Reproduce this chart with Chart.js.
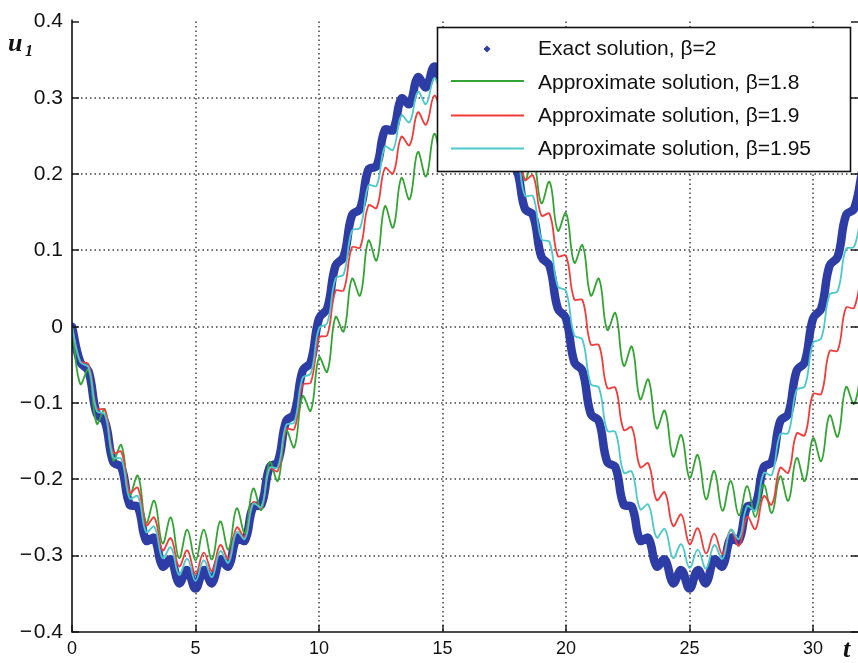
<!DOCTYPE html>
<html><head><meta charset="utf-8">
<script src="https://cdn.jsdelivr.net/npm/chart.js@4.4.1/dist/chart.umd.min.js"></script>
<style>html,body{margin:0;padding:0;background:#fff;overflow:hidden}#wrap{width:858px;height:663px;position:relative}</style>
</head><body><div id="wrap"><canvas id="c" width="858" height="663"></canvas></div>
<script>
// time samples (t)
const t = [0,0.333,0.667,1,1.333,1.667,2,2.333,2.667,3,3.333,3.667,4,4.333,4.667,5,5.333,5.667,6,6.333,6.667,7,7.333,7.667,8,8.333,8.667,9,9.333,9.667,
10,10.333,10.667,11,11.333,11.667,12,12.333,12.667,13,13.333,13.667,14,14.333,14.667,15,15.333,15.667,16,16.333,16.667,17,17.333,17.667,18,18.333,18.667,19,19.333,19.667,
20,20.333,20.667,21,21.333,21.667,22,22.333,22.667,23,23.333,23.667,24,24.333,24.667,25,25.333,25.667,26,26.333,26.667,27,27.333,27.667,28,28.333,28.667,29,29.333,29.667,
30,30.333,30.667,31,31.333,31.667,32];
// Exact solution, beta = 2
const exact = [0,-0.046,-0.058,-0.114,-0.124,-0.177,-0.184,-0.233,-0.236,-0.280,-0.277,-0.314,-0.305,-0.336,-0.319,-0.343,-0.319,-0.336,-0.305,-0.314,-0.277,-0.280,-0.236,-0.233,-0.184,-0.177,-0.124,-0.114,-0.058,-0.046,
0.011,0.024,0.080,0.092,0.146,0.155,0.206,0.211,0.258,0.258,0.299,0.292,0.327,0.314,0.341,0.321,0.341,0.314,0.327,0.292,0.299,0.258,0.258,0.211,0.206,0.155,0.146,0.092,0.080,0.024,
0.011,-0.046,-0.058,-0.114,-0.124,-0.177,-0.184,-0.233,-0.236,-0.280,-0.277,-0.314,-0.305,-0.336,-0.319,-0.343,-0.319,-0.336,-0.305,-0.314,-0.277,-0.280,-0.236,-0.233,-0.184,-0.177,-0.124,-0.114,-0.058,-0.046,
0.011,0.024,0.080,0.092,0.146,0.155,0.206];
// Approximate solution, beta = 1.8
const approx18 = [0,-0.075,-0.056,-0.127,-0.108,-0.175,-0.155,-0.220,-0.195,-0.257,-0.228,-0.284,-0.250,-0.303,-0.266,-0.306,-0.266,-0.305,-0.255,-0.292,-0.238,-0.270,-0.212,-0.240,-0.177,-0.202,-0.136,-0.158,-0.091,-0.110,
-0.040,-0.059,0.013,-0.006,0.063,0.041,0.113,0.087,0.158,0.130,0.195,0.167,0.229,0.197,0.253,0.216,0.268,0.229,0.276,0.233,0.276,0.228,0.266,0.214,0.248,0.192,0.222,0.162,0.190,0.126,
0.149,0.084,0.107,0.041,0.063,-0.004,0.018,-0.051,-0.026,-0.095,-0.069,-0.133,-0.110,-0.170,-0.142,-0.198,-0.168,-0.226,-0.189,-0.241,-0.202,-0.247,-0.209,-0.249,-0.207,-0.244,-0.196,-0.228,-0.172,-0.202,
-0.146,-0.176,-0.116,-0.144,-0.079,-0.101,-0.042];
// Approximate solution, beta = 1.9
const approx19 = [0,-0.045,-0.049,-0.107,-0.109,-0.165,-0.164,-0.217,-0.211,-0.260,-0.250,-0.293,-0.277,-0.314,-0.293,-0.324,-0.296,-0.320,-0.286,-0.304,-0.263,-0.276,-0.230,-0.237,-0.186,-0.189,-0.134,-0.134,-0.076,-0.073,
-0.014,-0.011,0.047,0.048,0.104,0.104,0.159,0.156,0.208,0.201,0.249,0.238,0.281,0.265,0.303,0.281,0.313,0.286,0.312,0.279,0.299,0.261,0.275,0.232,0.241,0.193,0.198,0.146,0.148,0.093,
0.093,0.036,0.035,-0.023,-0.024,-0.080,-0.080,-0.135,-0.132,-0.184,-0.179,-0.227,-0.217,-0.261,-0.246,-0.285,-0.264,-0.297,-0.271,-0.298,-0.266,-0.287,-0.249,-0.265,-0.222,-0.233,-0.185,-0.191,-0.140,-0.142,
-0.088,-0.088,-0.032,-0.031,0.025,0.025,0.081];
// Approximate solution, beta = 1.95
const approx195 = [0,-0.046,-0.053,-0.110,-0.115,-0.171,-0.173,-0.225,-0.222,-0.269,-0.262,-0.303,-0.289,-0.325,-0.304,-0.333,-0.306,-0.328,-0.294,-0.309,-0.269,-0.278,-0.232,-0.236,-0.185,-0.184,-0.129,-0.125,-0.067,-0.061,
-0.002,0.005,0.063,0.069,0.126,0.130,0.185,0.185,0.236,0.232,0.277,0.268,0.308,0.292,0.326,0.304,0.331,0.302,0.323,0.287,0.301,0.260,0.268,0.221,0.224,0.172,0.171,0.115,0.111,0.053,
0.047,-0.011,-0.017,-0.075,-0.080,-0.136,-0.138,-0.191,-0.190,-0.239,-0.233,-0.276,-0.265,-0.303,-0.285,-0.316,-0.292,-0.317,-0.286,-0.304,-0.266,-0.278,-0.235,-0.241,-0.192,-0.194,-0.141,-0.139,-0.083,-0.078,
-0.021,-0.015,0.042,0.047,0.102,0.105,0.159];

const seriesNames = ['Exact solution, \u03B2=2','Approximate solution, \u03B2=1.8','Approximate solution, \u03B2=1.9','Approximate solution, \u03B2=1.95'];
const xTicks = [0,5,10,15,20,25,30];
const xTickLabels = ['0','5','10','15','20','25','30'];
const yTicks = [-0.4,-0.3,-0.2,-0.1,0,0.1,0.2,0.3,0.4];
const yTickLabels = ['\u2212\u200A0.4','\u2212\u200A0.3','\u2212\u200A0.2','\u2212\u200A0.1','0','0.1','0.2','0.3','0.4'];

const colors = ['#2e3da6','#34a534','#f23c3c','#4cc9c9'];
const widths = [8.5,1.8,1.8,1.8];
const seriesData = [exact, approx18, approx19, approx195];
const orders = [4,3,2,1];

const datasets = seriesData.map((arr,k)=>({
  label: seriesNames[k],
  data: t.map((x,i)=>({x:x, y:arr[i]})),
  borderColor: colors[k],
  backgroundColor: colors[k],
  borderWidth: widths[k],
  pointRadius: 0,
  fill: false,
  tension: 0.4,
  borderCapStyle: 'round',
  borderJoinStyle: 'round',
  order: orders[k]
}));

const decor = {
  id: 'decor',
  beforeDatasetsDraw(chart){
    const {ctx, chartArea:a, scales:{x,y}} = chart;
    ctx.save();
    ctx.strokeStyle = '#404040';
    ctx.lineWidth = 1.5;
    ctx.setLineDash([1.5,3]);
    xTicks.forEach(v=>{
      if (v===0) return;
      const px = Math.round(x.getPixelForValue(v));
      ctx.beginPath(); ctx.moveTo(px,a.top); ctx.lineTo(px,a.bottom); ctx.stroke();
    });
    yTicks.forEach(v=>{
      if (v===-0.4 || v===0.4) return;
      const py = Math.round(y.getPixelForValue(v));
      ctx.beginPath(); ctx.moveTo(a.left,py); ctx.lineTo(a.right,py); ctx.stroke();
    });
    ctx.restore();
  },
  afterDatasetsDraw(chart){
    const {ctx, chartArea:a, scales:{x,y}} = chart;
    ctx.save();
    ctx.strokeStyle = '#111'; ctx.lineWidth = 1.6; ctx.setLineDash([]);
    ctx.beginPath(); ctx.moveTo(a.left, a.top-2); ctx.lineTo(a.left, a.bottom); ctx.lineTo(a.right, a.bottom); ctx.stroke();
    ctx.lineWidth = 1.4;
    yTicks.forEach(v=>{
      const py = Math.round(y.getPixelForValue(v));
      ctx.beginPath(); ctx.moveTo(a.left, py); ctx.lineTo(a.left+7, py); ctx.stroke();
      ctx.beginPath(); ctx.moveTo(a.right-7, py); ctx.lineTo(a.right, py); ctx.stroke();
    });
    xTicks.forEach(v=>{
      const px = Math.round(x.getPixelForValue(v));
      ctx.beginPath(); ctx.moveTo(px, a.bottom); ctx.lineTo(px, a.bottom-7); ctx.stroke();
    });
    // legend
    const L = {x:437, y:27, w:413, h:144};
    ctx.fillStyle = '#fff'; ctx.fillRect(L.x, L.y, L.w, L.h);
    ctx.strokeStyle = '#111'; ctx.lineWidth = 1.6; ctx.strokeRect(L.x+0.5, L.y+0.5, L.w, L.h);
    const rowsY = [47, 81, 115.5, 148.5];
    const baseY = [54.5, 88.5, 121.5, 154.5];
    ctx.font = '21px "Liberation Sans", Arial, sans-serif';
    ctx.textBaseline = 'alphabetic';
    ctx.textAlign = 'left';
    chart.data.datasets.forEach((ds,k)=>{
      if (k===0){
        ctx.fillStyle = ds.borderColor;
        const cx=487, cy=49, r=3.5;
        ctx.beginPath(); ctx.moveTo(cx,cy-r); ctx.lineTo(cx+r,cy); ctx.lineTo(cx,cy+r); ctx.lineTo(cx-r,cy); ctx.closePath(); ctx.fill();
      } else {
        ctx.strokeStyle = ds.borderColor; ctx.lineWidth = 2;
        ctx.beginPath(); ctx.moveTo(451, rowsY[k]); ctx.lineTo(524, rowsY[k]); ctx.stroke();
      }
      ctx.fillStyle = '#111';
      ctx.fillText(ds.label, 538, baseY[k]);
    });
    // axis titles
    ctx.fillStyle = '#111';
    ctx.font = 'italic bold 26px "Liberation Serif", "Times New Roman", serif';
    ctx.fillText('u', 8, 51);
    ctx.font = 'italic bold 16px "Liberation Serif", "Times New Roman", serif';
    ctx.fillText('1', 25, 56);
    ctx.font = 'italic bold 26px "Liberation Serif", "Times New Roman", serif';
    ctx.fillText('t', 843, 657);
    ctx.restore();
  }
};

new Chart(document.getElementById('c'), {
  type: 'line',
  data: { datasets },
  options: {
    responsive: false,
    animation: false,
    events: [],
    layout: { padding: { top: 14, right: 0, left: 0, bottom: 0 } },
    plugins: { legend: { display: false }, tooltip: { enabled: false }, title: { display: false } },
    scales: {
      x: {
        type: 'linear', min: 0, max: 31.82,
        grid: { display: false, drawTicks: false },
        border: { display: false },
        afterBuildTicks: s => { s.ticks = xTicks.map(v=>({value:v})); },
        afterFit: s => { s.height = 31; },
        ticks: { padding: 6, color: '#111', font: { family: '"Liberation Sans", Arial, sans-serif', size: 18 },
          maxRotation: 0, autoSkip: false,
          callback: (v,i) => xTickLabels[i] }
      },
      y: {
        type: 'linear', min: -0.4, max: 0.4,
        grid: { display: false, drawTicks: false },
        border: { display: false },
        afterBuildTicks: s => { s.ticks = yTicks.map(v=>({value:v})); },
        afterFit: s => { s.width = 72; },
        ticks: { padding: 9, color: '#111', font: { family: '"Liberation Sans", Arial, sans-serif', size: 21 },
          autoSkip: false,
          callback: (v,i) => yTickLabels[i] }
      }
    }
  },
  plugins: [decor]
});
</script>
</body></html>
